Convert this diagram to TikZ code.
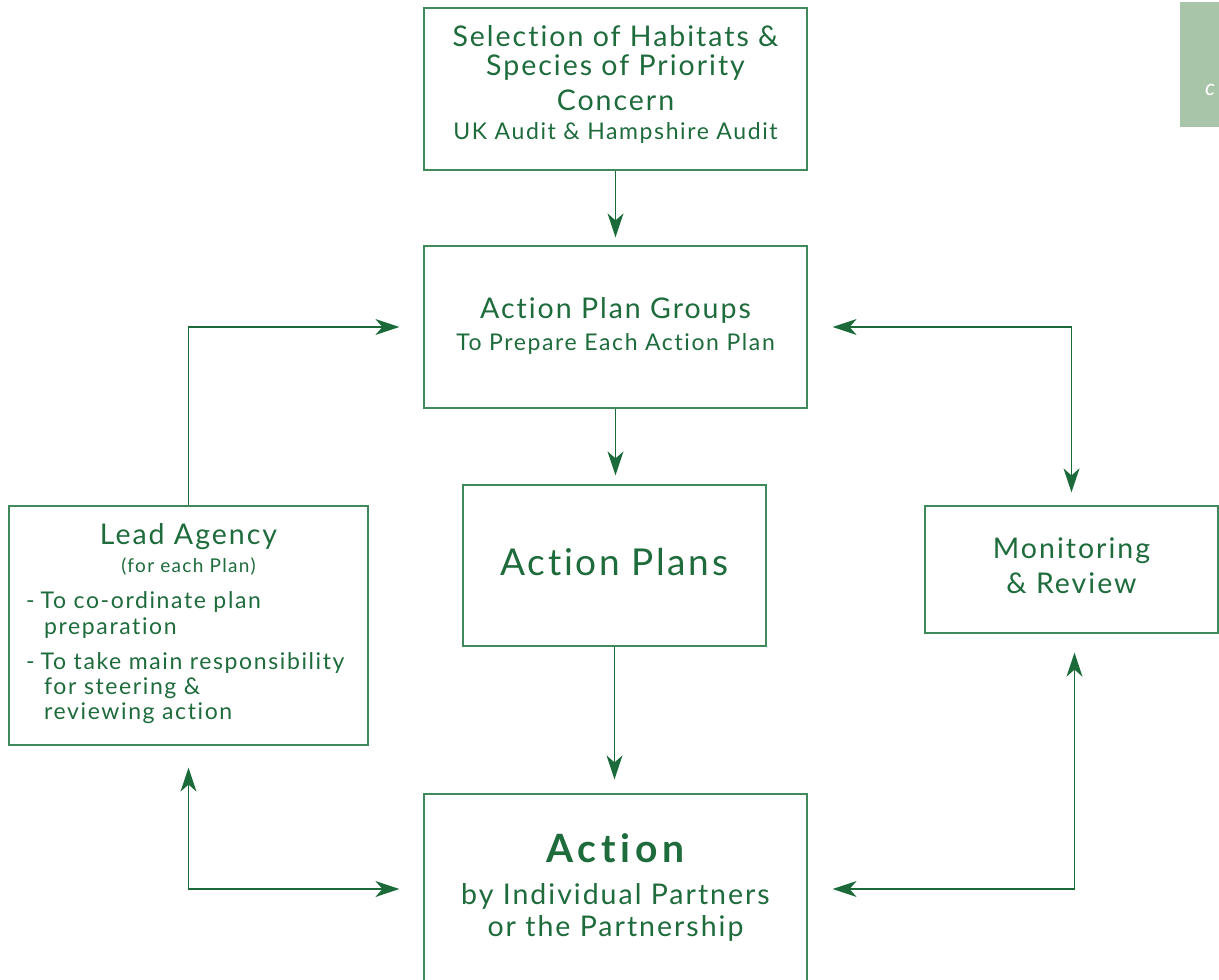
\documentclass[tikz,border=0pt]{standalone}
\usepackage{fontspec}
\setmainfont{Lato}[LetterSpace=7,Ligatures={NoCommon,NoContextual}]
\usetikzlibrary{arrows.meta}
\definecolor{txtg}{HTML}{1E6B3C}
\definecolor{lineg}{HTML}{3F8A5A}
\definecolor{arrg}{HTML}{1B6B3A}
\definecolor{tabg}{HTML}{A9C5A9}
\tikzset{
  box/.style={draw=lineg, line width=1.2pt, inner sep=0pt, fill=white},
  arr/.style={draw=arrg, line width=1.3pt, -{Stealth[length=24pt,width=16pt,inset=7pt]}},
  dbl/.style={draw=arrg, line width=1.3pt, {Stealth[length=24pt,width=16pt,inset=7pt]}-{Stealth[length=24pt,width=16pt,inset=7pt]}},
  txt/.style={text=txtg, inner sep=0pt, align=center},
}
\newcommand{\fsz}[2]{\fontsize{#1}{#2}\selectfont}
\begin{document}
\begin{tikzpicture}[x=1pt,y=-1pt]
\useasboundingbox (0,0) rectangle (1219,980);
% tab top right
\fill[tabg] (1180,2) rectangle (1219,127);
\node[text=white, inner sep=0pt, anchor=west] (tabc) at (1205,90) {\fsz{22}{26}\itshape c};
% boxes
\node[box, minimum width=383pt, minimum height=162pt] (top) at (615.5,89) {};
\node[box, minimum width=383pt, minimum height=162pt] (apg) at (615.5,327) {};
\node[box, minimum width=303pt, minimum height=161pt] (ap) at (614.5,565.5) {};
\node[box, minimum width=359pt, minimum height=239pt] (la) at (188.5,625.5) {};
\node[box, minimum width=293pt, minimum height=127pt] (mon) at (1071.5,569.5) {};
\node[box, minimum width=383pt, minimum height=190pt] (act) at (615.5,889) {};
% texts
\node[txt] (t1) at (615.5,36) {\fsz{28.5}{32}Selection of Habitats \&};
\node[txt] (t2) at (615.5,68) {\fsz{28.5}{32}Species of Priority};
\node[txt] (t3) at (615.5,100) {\fsz{28.5}{32}Concern};
\node[txt] (t4) at (615.5,133) {\fsz{23}{26}UK Audit \& Hampshire Audit};
\node[txt] (g1) at (615.5,310) {\fsz{28.5}{32}Action Plan Groups};
\node[txt] (g2) at (615.5,344) {\fsz{23}{26}To Prepare Each Action Plan};
\node[txt] (p1) at (614.5,562) {\fsz{37}{42}Action Plans};
\node[txt] (m1) at (1071.5,551) {\fsz{28.5}{32}Monitoring};
\node[txt] (m2) at (1071.5,583) {\fsz{28.5}{32}\& Review};
\node[txt] (a1) at (615.5,848) {\fsz{39}{42}\addfontfeatures{LetterSpace=12}\bfseries Action};
\node[txt] (a2) at (615.5,896) {\fsz{28.5}{32}by Individual Partners};
\node[txt] (a3) at (615.5,928) {\fsz{28.5}{32}or the Partnership};
\node[txt] (l1) at (188.5,537) {\fsz{28.5}{30}Lead Agency};
\node[txt] (l2) at (188.5,567) {\fsz{19}{22}(for each Plan)};
\node[txt, anchor=west] (l3) at (26,602) {\fsz{23}{26}-\hspace{6pt}To co-ordinate plan};
\node[txt, anchor=west] (l4) at (44,628) {\fsz{23}{26}preparation};
\node[txt, anchor=west] (l5) at (26,663) {\fsz{23}{26}-\hspace{6pt}To take main responsibility};
\node[txt, anchor=west] (l6) at (44,688) {\fsz{23}{26}for steering \&};
\node[txt, anchor=west] (l7) at (44,713) {\fsz{23}{26}reviewing action};
% connectors
\draw[arr, shorten >=8pt] (top.south) -- (apg.north);
\draw[arr, shorten >=9pt] (apg.south) -- (ap.north -| apg.south);
\draw[arr, shorten >=14pt] (ap.south) -- (act.north -| ap.south);
\draw[arr, shorten >=24pt] (la.north) |- (apg.west);
\draw[dbl, shorten <=25pt, shorten >=13pt] (apg.east) -| (mon.north);
\draw[dbl, shorten <=22pt, shorten >=24pt] (la.south) |- (act.west);
\draw[dbl, shorten <=19pt, shorten >=25pt] ([xshift=3pt]mon.south) |- (act.east);
\end{tikzpicture}
\end{document}
